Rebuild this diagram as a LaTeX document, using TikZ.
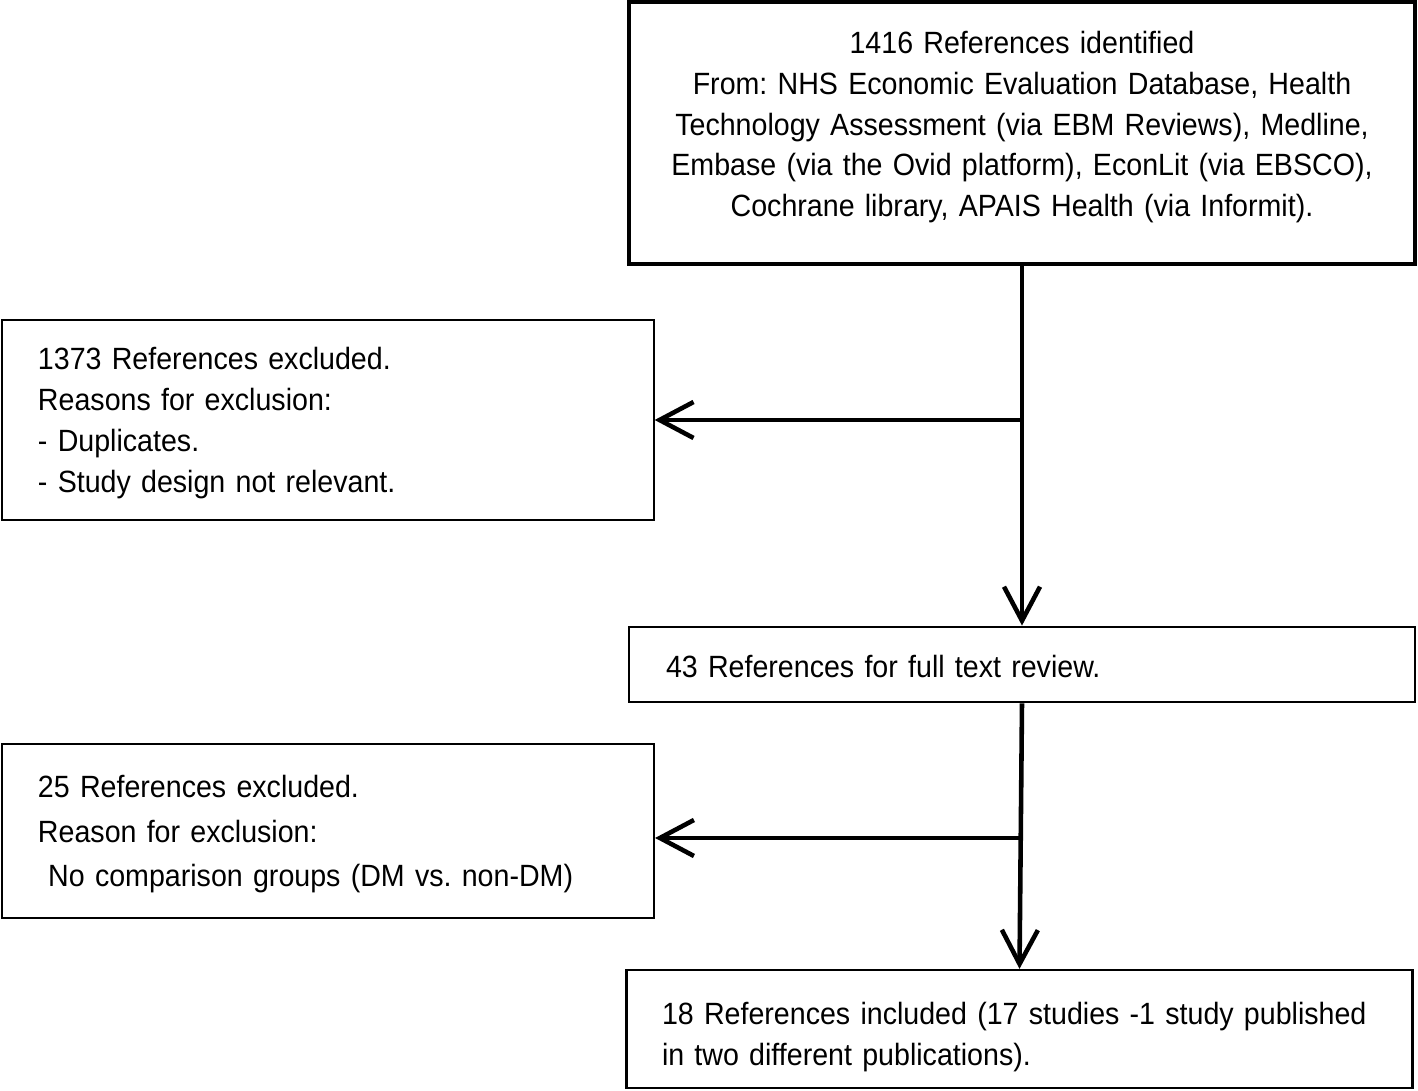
\documentclass[tikz,border=0pt]{standalone}
\usepackage{fontspec}
\setmainfont[FakeStretch=0.93]{Liberation Sans}
\usetikzlibrary{positioning}
\usetikzlibrary{arrows.meta}
\frenchspacing
\tikzstyle{box}=[rectangle,draw,inner sep=0pt,font=\fontsize{17.5}{23.3}\selectfont]
\tikzstyle{leftbox}=[box,minimum width=13.04cm,text width=11.6cm,align=left]
\tikzstyle{widebox}=[box,minimum width=15.72cm]
\tikzstyle{edge}=[draw,line width=2.6pt,-{Straight Barb[length=0.68cm,width=0.72cm]}]

\begin{document}
\begin{tikzpicture}
   \useasboundingbox (0,0) rectangle (28.36,21.82);

   % boxes
   \node[widebox,minimum height=5.24cm,text width=15cm,text height=0.21cm,align=center,line width=1.8pt] (found) at (20.44,19.16)
      {1416 References identified\\
       From: NHS Economic Evaluation Database, Health\\
       Technology Assessment (via EBM Reviews), Medline,\\
       Embase (via the Ovid platform), EconLit (via EBSCO),\\
       Cochrane library, APAIS Health (via Informit).};
   \node[leftbox,minimum height=4.0cm,text height=0.57cm,line width=0.75pt] (excl1) at (6.56,13.42)
      {1373 References excluded.\\
       Reasons for exclusion:\\
       - Duplicates.\\
       - Study design not relevant.};
   \node[widebox,minimum height=1.5cm,text width=14.24cm,text height=0.53cm,align=left,line width=1.6pt] (full) at (20.44,8.53)
      {43 References for full text review.};
   \node[leftbox,minimum height=3.48cm,text height=0.57cm,line width=1.2pt,font=\fontsize{17.5}{25.5}\selectfont] (excl2) at (6.56,5.2)
      {25 References excluded.\\
       Reason for exclusion:\\
       ~No comparison groups (DM vs. non-DM)};
   \node[widebox,minimum height=2.36cm,text width=14.3cm,text height=0.75cm,align=left,line width=1.3pt] (incl) at (20.39,1.24)
      {18 References included (17 studies -1 study published\\
       in two different publications).};

   % connectors
   \coordinate (b1) at (found.south |- excl1.east);
   \coordinate (b2) at (20.42,5.06);
   \path[edge] (found.south) -- (full.north);
   \path[edge] (b1) -- (excl1.east);
   \path[edge] (full.south) -- (incl.north);
   \path[edge] (b2) -- (b2 -| excl2.east);
\end{tikzpicture}
\end{document}
